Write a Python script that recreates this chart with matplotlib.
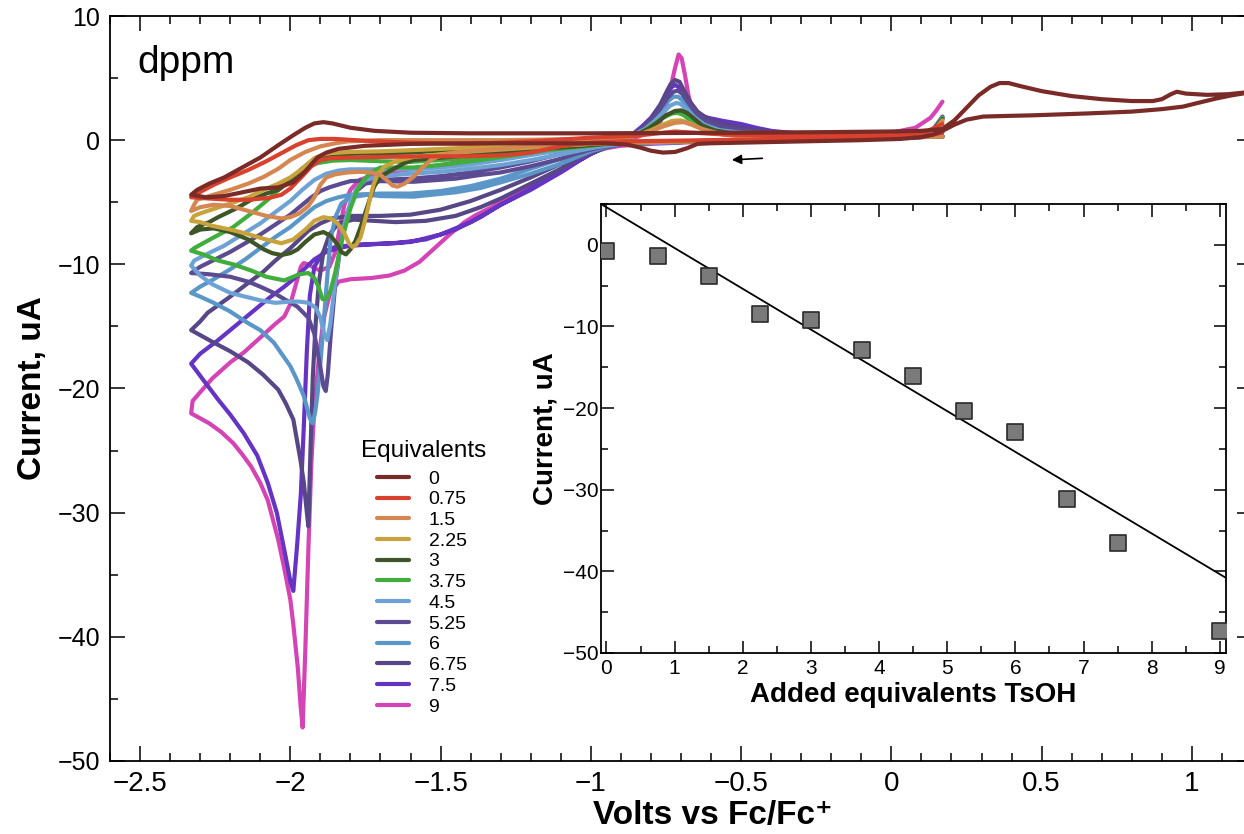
import numpy as np
import matplotlib
matplotlib.use("Agg")
import matplotlib.pyplot as plt
from matplotlib.ticker import MultipleLocator, FuncFormatter

# ---- cyclic voltammograms, (volts, current uA):
# cathodic sweep first, then the return sweep
cv_0 = [(1.18, 3.8), (1.13, 3.6), (1.08, 3.35), (1.02, 3.0), (0.97, 2.7), (0.9, 2.5), (0.8, 2.3), (0.65, 2.15),
        (0.47, 2.0), (0.38, 1.95), (0.305, 1.9), (0.25, 1.65), (0.21, 1.25), (0.17, 0.75), (0.14, 0.45),
        (0.1, 0.25), (0.03, 0.1), (-0.1, 0.0), (-0.3, -0.1), (-0.5, -0.2), (-0.6, -0.25), (-0.645, -0.3),
        (-0.68, -0.65), (-0.72, -0.95), (-0.76, -1.0), (-0.8, -0.85), (-0.835, -0.6), (-0.88, -0.35),
        (-0.95, -0.25), (-1.1, -0.25), (-1.37, -0.25), (-1.6, -0.3), (-1.75, -0.45), (-1.84, -0.7),
        (-1.88, -1.0), (-1.91, -1.4), (-1.95, -2.5), (-1.99, -3.4), (-2.04, -3.8), (-2.1, -3.9), (-2.16, -4.2),
        (-2.22, -4.5), (-2.28, -4.6), (-2.33, -4.4),
        (-2.31, -4.0), (-2.27, -3.5), (-2.22, -3.0), (-2.16, -2.2), (-2.1, -1.4), (-2.04, -0.4), (-1.99, 0.4),
        (-1.95, 1.0), (-1.92, 1.35), (-1.89, 1.45), (-1.86, 1.35), (-1.8, 1.0), (-1.72, 0.75), (-1.6, 0.6),
        (-1.4, 0.55), (-1.0, 0.55), (-0.5, 0.6), (-0.2, 0.65), (0.0, 0.7), (0.1, 0.75), (0.17, 0.9),
        (0.21, 1.6), (0.25, 2.6), (0.29, 3.6), (0.33, 4.3), (0.36, 4.6), (0.39, 4.6), (0.43, 4.35),
        (0.5, 3.95), (0.6, 3.55), (0.7, 3.3), (0.8, 3.15), (0.87, 3.15), (0.9, 3.3), (0.93, 3.7),
        (0.95, 3.9), (0.98, 3.75), (1.05, 3.65), (1.12, 3.7), (1.18, 3.85)]

cv_075 = [(0.17, 0.6), (0.1, 0.3), (0.0, 0.2), (-0.3, 0.1), (-0.6, 0.0), (-0.9, -0.1), (-1.0, -0.2),
          (-1.08, -0.4), (-1.14, -0.7), (-1.2, -1.0), (-1.28, -1.2), (-1.4, -1.3), (-1.55, -1.3), (-1.7, -1.35),
          (-1.8, -1.4), (-1.866, -1.45), (-1.9, -1.6), (-1.93, -2.1), (-1.96, -2.9), (-2.0, -3.9),
          (-2.03, -4.4), (-2.07, -4.65), (-2.14, -4.8), (-2.2, -4.8), (-2.27, -4.7), (-2.33, -4.6),
          (-2.31, -4.3), (-2.255, -3.6), (-2.2, -3.0), (-2.14, -2.4), (-2.08, -1.7), (-2.03, -1.05),
          (-1.98, -0.4), (-1.94, 0.0), (-1.9, 0.1), (-1.85, 0.1), (-1.75, -0.05), (-1.6, -0.2), (-1.4, -0.3),
          (-1.2, -0.1), (-1.0, 0.2), (-0.85, 0.35), (-0.76, 0.6), (-0.72, 0.7), (-0.66, 0.6), (-0.55, 0.45),
          (-0.3, 0.35), (0.0, 0.4), (0.1, 0.5), (0.17, 1.3)]

cv_15 = [(0.17, 0.3), (0.0, 0.2), (-0.5, 0.0), (-0.9, -0.2), (-1.0, -0.3), (-1.2, -0.5), (-1.367, -0.8),
         (-1.44, -0.95), (-1.477, -1.1), (-1.51, -1.35), (-1.533, -1.6), (-1.56, -2.2), (-1.59, -2.95),
         (-1.62, -3.5), (-1.643, -3.75), (-1.66, -3.65), (-1.68, -3.2), (-1.7, -2.8), (-1.73, -2.6),
         (-1.77, -2.55), (-1.81, -2.6), (-1.85, -2.75), (-1.88, -3.0), (-1.9, -3.6), (-1.92, -4.6),
         (-1.94, -5.3), (-1.97, -5.9), (-2.0, -6.2), (-2.03, -6.3), (-2.08, -6.1), (-2.14, -5.7), (-2.2, -5.3),
         (-2.255, -5.2), (-2.3, -5.4), (-2.33, -5.7),
         (-2.32, -5.2), (-2.31, -4.8), (-2.27, -4.5), (-2.2, -4.0), (-2.14, -3.5), (-2.088, -2.95),
         (-2.04, -2.3), (-2.0, -1.6), (-1.95, -0.95), (-1.9, -0.5), (-1.85, -0.25), (-1.81, -0.1), (-1.7, 0.0),
         (-1.5, 0.0), (-1.3, 0.0), (-1.0, 0.1), (-0.9, 0.2), (-0.85, 0.35), (-0.8, 0.7), (-0.76, 1.1),
         (-0.72, 1.4), (-0.69, 1.45), (-0.66, 1.2), (-0.62, 0.8), (-0.56, 0.45), (-0.5, 0.3), (-0.2, 0.3),
         (0.1, 0.45), (0.14, 0.7), (0.17, 1.5)]

cv_225 = [(0.17, 0.3), (0.0, 0.2), (-0.5, 0.0), (-0.9, -0.2), (-1.0, -0.3), (-1.2, -0.6), (-1.423, -0.95),
          (-1.59, -1.35), (-1.65, -1.7), (-1.688, -2.15), (-1.71, -2.8), (-1.722, -3.5), (-1.733, -4.5),
          (-1.743, -5.6), (-1.755, -6.8), (-1.766, -7.8), (-1.78, -8.4), (-1.793, -8.6), (-1.805, -8.3),
          (-1.82, -7.5), (-1.843, -6.7), (-1.866, -6.3), (-1.89, -6.2), (-1.92, -6.5), (-1.95, -7.2),
          (-1.99, -8.0), (-2.03, -8.3), (-2.088, -7.95), (-2.15, -7.5), (-2.2, -7.2), (-2.26, -6.9),
          (-2.3, -6.6), (-2.33, -6.5),
          (-2.32, -6.1), (-2.3, -5.9), (-2.25, -5.5), (-2.2, -5.1), (-2.14, -4.6), (-2.088, -4.0),
          (-2.04, -3.5), (-2.0, -3.0), (-1.96, -2.3), (-1.92, -1.45), (-1.89, -1.15), (-1.866, -1.05),
          (-1.8, -0.95), (-1.7, -0.9), (-1.59, -0.8), (-1.4, -0.6), (-1.2, -0.3), (-1.0, 0.0), (-0.9, 0.15),
          (-0.85, 0.35), (-0.8, 0.8), (-0.76, 1.25), (-0.73, 1.55), (-0.7, 1.6), (-0.67, 1.35), (-0.63, 0.9),
          (-0.57, 0.5), (-0.5, 0.35), (-0.2, 0.3), (0.1, 0.45), (0.14, 0.7), (0.17, 1.6)]

cv_3 = [(0.17, 0.3), (0.0, 0.2), (-0.5, 0.0), (-0.9, -0.2), (-1.0, -0.4), (-1.2, -0.8), (-1.4, -1.2),
        (-1.59, -1.6), (-1.62, -1.85), (-1.643, -2.15), (-1.67, -2.5), (-1.7, -2.95), (-1.72, -3.7),
        (-1.733, -4.55), (-1.75, -5.8), (-1.766, -7.0), (-1.783, -8.1), (-1.8, -8.8), (-1.815, -9.2),
        (-1.83, -9.0), (-1.843, -8.4), (-1.866, -7.7), (-1.89, -7.4), (-1.92, -7.6), (-1.95, -8.2),
        (-1.976, -8.8), (-2.0, -9.1), (-2.03, -9.25), (-2.06, -9.1), (-2.088, -8.8), (-2.14, -8.0),
        (-2.2, -7.4), (-2.255, -7.1), (-2.3, -7.2), (-2.33, -7.5),
        (-2.31, -7.0), (-2.27, -6.6), (-2.24, -6.2), (-2.18, -5.5), (-2.13, -4.8), (-2.08, -4.3),
        (-2.04, -4.0), (-2.0, -3.3), (-1.966, -2.4), (-1.93, -1.7), (-1.9, -1.35), (-1.85, -1.15),
        (-1.8, -1.1), (-1.6, -1.0), (-1.4, -0.7), (-1.2, -0.4), (-1.0, -0.1), (-0.9, 0.15), (-0.85, 0.4),
        (-0.81, 0.9), (-0.78, 1.4), (-0.75, 2.0), (-0.72, 2.35), (-0.7, 2.4), (-0.68, 2.2), (-0.66, 1.8),
        (-0.63, 1.2), (-0.59, 0.8), (-0.52, 0.5), (-0.3, 0.4), (0.1, 0.5), (0.14, 0.8), (0.17, 1.7)]

cv_375 = [(0.17, 0.3), (0.0, 0.2), (-0.5, 0.0), (-0.9, -0.2), (-0.98, -0.4), (-1.06, -0.6), (-1.145, -0.8),
          (-1.25, -1.2), (-1.367, -1.6), (-1.48, -1.95), (-1.59, -2.2), (-1.633, -2.2), (-1.7, -2.2),
          (-1.733, -2.6), (-1.755, -3.2), (-1.777, -4.0), (-1.8, -5.5), (-1.82, -7.3), (-1.833, -8.6),
          (-1.85, -10.6), (-1.866, -12.1), (-1.88, -12.8), (-1.893, -12.8), (-1.905, -11.9), (-1.92, -11.1),
          (-1.94, -10.7), (-1.97, -10.8), (-2.02, -11.3), (-2.08, -11.0), (-2.13, -10.5), (-2.19, -10.0),
          (-2.24, -9.7), (-2.29, -9.2), (-2.33, -8.9),
          (-2.32, -8.7), (-2.26, -7.9), (-2.19, -7.0), (-2.13, -5.9), (-2.075, -4.8), (-2.03, -3.8),
          (-1.99, -3.0), (-1.95, -2.3), (-1.91, -1.85), (-1.86, -1.65), (-1.8, -1.6), (-1.7, -1.7),
          (-1.6, -1.75), (-1.5, -1.6), (-1.4, -1.4), (-1.3, -1.1), (-1.2, -0.8), (-1.1, -0.5), (-1.0, -0.3),
          (-0.9, 0.0), (-0.86, 0.3), (-0.82, 0.8), (-0.79, 1.3), (-0.76, 1.8), (-0.73, 2.15), (-0.71, 2.2),
          (-0.69, 2.0), (-0.67, 1.6), (-0.64, 1.15), (-0.6, 0.8), (-0.53, 0.5), (-0.3, 0.4), (0.1, 0.5),
          (0.14, 0.8), (0.17, 1.8)]

cv_45 = [(0.17, 0.3), (0.0, 0.2), (-0.5, 0.0), (-0.9, -0.3), (-0.95, -0.45), (-1.0, -0.65), (-1.05, -0.9),
         (-1.1, -1.15), (-1.2, -1.6), (-1.3, -2.0), (-1.4, -2.3), (-1.5, -2.55), (-1.6, -2.7), (-1.7, -2.9),
         (-1.75, -3.2), (-1.78, -3.9), (-1.8, -5.0), (-1.82, -6.8), (-1.84, -9.5), (-1.855, -12.3),
         (-1.867, -14.8), (-1.877, -16.1), (-1.887, -15.6), (-1.9, -14.3), (-1.915, -13.5), (-1.94, -13.1),
         (-1.97, -13.0), (-2.0, -13.0), (-2.05, -13.1), (-2.1, -12.9), (-2.15, -12.6), (-2.2, -12.3),
         (-2.26, -11.6), (-2.3, -10.9), (-2.33, -10.1),
         (-2.32, -9.7), (-2.28, -9.2), (-2.22, -8.5), (-2.16, -7.6), (-2.1, -6.7), (-2.05, -5.8),
         (-2.0, -4.9), (-1.96, -4.0), (-1.92, -3.2), (-1.88, -2.7), (-1.84, -2.45), (-1.8, -2.35),
         (-1.7, -2.35), (-1.6, -2.35), (-1.5, -2.2), (-1.4, -1.95), (-1.3, -1.6), (-1.2, -1.2),
         (-1.1, -0.8), (-1.0, -0.4), (-0.95, -0.2), (-0.9, 0.05), (-0.86, 0.4), (-0.82, 0.9), (-0.79, 1.5),
         (-0.76, 2.2), (-0.735, 2.8), (-0.715, 3.0), (-0.7, 2.9), (-0.68, 2.4), (-0.655, 1.8), (-0.62, 1.2),
         (-0.57, 0.8), (-0.5, 0.6), (-0.3, 0.45), (0.1, 0.5), (0.14, 0.8), (0.17, 1.8)]

cv_525 = [(0.17, 0.3), (0.0, 0.2), (-0.5, 0.0), (-0.9, -0.3), (-0.95, -0.5), (-1.0, -0.75), (-1.05, -1.1),
          (-1.1, -1.5), (-1.2, -2.1), (-1.3, -2.6), (-1.367, -2.8), (-1.45, -3.1), (-1.59, -3.35),
          (-1.7, -3.3), (-1.75, -3.5), (-1.78, -4.1), (-1.81, -5.8), (-1.83, -8.0), (-1.85, -11.5),
          (-1.865, -15.5), (-1.875, -18.8), (-1.882, -20.2), (-1.89, -19.8), (-1.9, -18.3), (-1.92, -15.6),
          (-1.94, -14.3), (-1.977, -13.4), (-2.02, -12.8), (-2.055, -12.3), (-2.1, -11.8), (-2.14, -11.4),
          (-2.2, -11.0), (-2.27, -10.8), (-2.33, -10.7),
          (-2.3, -10.2), (-2.25, -9.6), (-2.2, -9.0), (-2.15, -8.3), (-2.1, -7.6), (-2.05, -6.8),
          (-2.0, -6.0), (-1.96, -5.2), (-1.93, -4.6), (-1.9, -4.1), (-1.87, -3.8), (-1.83, -3.5),
          (-1.8, -3.3), (-1.7, -3.2), (-1.6, -3.1), (-1.5, -2.9), (-1.4, -2.6), (-1.3, -2.2), (-1.2, -1.7),
          (-1.1, -1.1), (-1.0, -0.6), (-0.95, -0.3), (-0.9, 0.0), (-0.86, 0.4), (-0.83, 0.9), (-0.8, 1.6),
          (-0.77, 2.5), (-0.745, 3.4), (-0.725, 3.9), (-0.71, 4.0), (-0.695, 3.7), (-0.675, 3.0),
          (-0.65, 2.2), (-0.62, 1.6), (-0.57, 1.1), (-0.5, 0.8), (-0.4, 0.55), (-0.2, 0.45), (0.1, 0.5),
          (0.14, 0.8), (0.17, 1.8)]

cv_6 = [(0.17, 0.3), (0.0, 0.2), (-0.5, 0.0), (-0.9, -0.3), (-0.95, -0.55), (-1.0, -0.9), (-1.05, -1.4),
        (-1.1, -1.9), (-1.2, -2.7), (-1.3, -3.4), (-1.367, -3.85), (-1.45, -4.2), (-1.59, -4.55),
        (-1.7, -4.5), (-1.743, -4.4), (-1.8, -4.6), (-1.83, -5.1), (-1.85, -6.2), (-1.866, -8.0),
        (-1.877, -11.0), (-1.89, -15.0), (-1.9, -18.0), (-1.91, -20.6), (-1.918, -22.0), (-1.926, -22.8),
        (-1.935, -22.4), (-1.955, -20.6), (-1.98, -19.2), (-2.0, -18.2), (-2.055, -16.3), (-2.1, -15.3),
        (-2.143, -14.7), (-2.2, -13.8), (-2.255, -13.1), (-2.3, -12.6), (-2.33, -12.3),
        (-2.3, -11.8), (-2.255, -11.2), (-2.2, -10.4), (-2.15, -9.6), (-2.1, -8.7), (-2.05, -7.8),
        (-2.0, -7.0), (-1.96, -6.2), (-1.92, -5.4), (-1.88, -4.9), (-1.84, -4.6), (-1.8, -4.4),
        (-1.7, -4.3), (-1.6, -4.3), (-1.5, -4.1), (-1.4, -3.7), (-1.3, -3.1), (-1.2, -2.3), (-1.1, -1.5),
        (-1.0, -0.8), (-0.95, -0.4), (-0.9, -0.05), (-0.86, 0.35), (-0.83, 0.8), (-0.8, 1.4), (-0.77, 2.3),
        (-0.745, 3.1), (-0.725, 3.5), (-0.71, 3.5), (-0.695, 3.2), (-0.675, 2.6), (-0.65, 1.9),
        (-0.62, 1.4), (-0.57, 1.0), (-0.5, 0.7), (-0.4, 0.5), (-0.2, 0.45), (0.1, 0.5), (0.14, 0.8),
        (0.17, 1.8)]

cv_675 = [(0.17, 0.3), (0.0, 0.2), (-0.5, 0.0), (-0.9, -0.3), (-0.95, -0.6), (-1.0, -1.0), (-1.05, -1.6),
          (-1.1, -2.3), (-1.2, -3.5), (-1.3, -4.7), (-1.367, -5.4), (-1.45, -6.1), (-1.55, -6.5),
          (-1.65, -6.6), (-1.79, -6.4), (-1.84, -6.7), (-1.87, -7.6), (-1.89, -9.0), (-1.905, -11.5),
          (-1.915, -14.5), (-1.925, -19.0), (-1.933, -25.0), (-1.94, -31.1), (-1.947, -29.5),
          (-1.955, -27.6), (-1.966, -25.8), (-1.99, -22.5), (-2.015, -21.2), (-2.04, -20.1), (-2.09, -18.9),
          (-2.14, -17.9), (-2.2, -17.0), (-2.255, -16.3), (-2.3, -15.7), (-2.33, -15.3),
          (-2.3, -14.6), (-2.275, -13.9), (-2.2, -12.6), (-2.14, -11.5), (-2.09, -10.6), (-2.05, -9.7),
          (-2.0, -8.7), (-1.97, -8.0), (-1.94, -7.3), (-1.9, -6.7), (-1.86, -6.3), (-1.8, -6.1),
          (-1.7, -6.1), (-1.6, -6.0), (-1.5, -5.6), (-1.4, -4.9), (-1.3, -4.0), (-1.2, -3.0), (-1.1, -1.9),
          (-1.0, -0.9), (-0.95, -0.45), (-0.9, -0.05), (-0.86, 0.4), (-0.83, 0.9), (-0.8, 1.7),
          (-0.77, 2.8), (-0.75, 3.8), (-0.735, 4.5), (-0.72, 4.85), (-0.705, 4.7), (-0.69, 4.0),
          (-0.67, 3.1), (-0.645, 2.3), (-0.61, 1.7), (-0.56, 1.3), (-0.5, 1.0), (-0.4, 0.65), (-0.2, 0.45),
          (0.1, 0.5), (0.14, 0.8), (0.17, 1.8)]

cv_75 = [(0.17, 0.3), (0.0, 0.2), (-0.5, 0.0), (-0.9, -0.3), (-0.95, -0.6), (-1.0, -1.1), (-1.05, -1.8),
         (-1.1, -2.6), (-1.2, -4.0), (-1.3, -5.2), (-1.367, -6.2), (-1.45, -7.2), (-1.55, -8.0),
         (-1.65, -8.3), (-1.77, -8.4), (-1.85, -8.6), (-1.89, -9.0), (-1.92, -10.2), (-1.935, -12.5),
         (-1.945, -17.0), (-1.955, -23.0), (-1.965, -28.5), (-1.977, -32.5), (-1.99, -36.3), (-2.0, -35.5),
         (-2.02, -33.0), (-2.045, -30.0), (-2.075, -27.6), (-2.11, -25.4), (-2.155, -23.6), (-2.2, -22.1),
         (-2.24, -20.9), (-2.29, -19.3), (-2.33, -18.0),
         (-2.3, -17.2), (-2.24, -16.1), (-2.18, -14.9), (-2.13, -13.9), (-2.07, -12.7), (-2.02, -11.8),
         (-1.98, -11.0), (-1.95, -10.3), (-1.92, -9.6), (-1.88, -9.0), (-1.84, -8.7), (-1.8, -8.5),
         (-1.7, -8.35), (-1.6, -8.2), (-1.5, -7.6), (-1.4, -6.6), (-1.3, -5.2), (-1.2, -3.9), (-1.1, -2.5),
         (-1.0, -1.1), (-0.95, -0.5), (-0.9, 0.0), (-0.86, 0.5), (-0.83, 1.1), (-0.8, 1.8), (-0.77, 2.8),
         (-0.745, 3.8), (-0.73, 4.3), (-0.718, 4.45), (-0.705, 4.2), (-0.69, 3.5), (-0.67, 2.7),
         (-0.645, 2.1), (-0.61, 1.8), (-0.56, 1.55), (-0.5, 1.3), (-0.45, 1.0), (-0.4, 0.75), (-0.3, 0.5),
         (-0.1, 0.45), (0.1, 0.5), (0.14, 0.9), (0.17, 1.9)]

cv_9 = [(0.17, 0.3), (0.0, 0.15), (-0.3, 0.0), (-0.6, -0.1), (-0.8, -0.3), (-0.9, -0.45), (-0.95, -0.65),
        (-0.98, -0.85), (-1.03, -1.5), (-1.08, -2.3), (-1.15, -3.2), (-1.22, -4.0), (-1.28, -4.7),
        (-1.33, -5.4), (-1.38, -6.0), (-1.42, -6.6), (-1.47, -7.6), (-1.52, -8.7), (-1.57, -9.8),
        (-1.62, -10.5), (-1.67, -10.9), (-1.73, -11.1), (-1.8, -11.2), (-1.84, -11.4), (-1.87, -12.5),
        (-1.89, -14.5), (-1.905, -17.5), (-1.92, -21.5), (-1.93, -26.0), (-1.94, -33.0), (-1.95, -41.0),
        (-1.959, -47.3), (-1.966, -45.5), (-1.975, -42.5), (-1.99, -39.0), (-2.0, -37.0), (-2.02, -34.5),
        (-2.04, -32.2), (-2.075, -29.0), (-2.1, -27.6), (-2.13, -26.3), (-2.16, -25.3), (-2.19, -24.4),
        (-2.23, -23.5), (-2.27, -22.8), (-2.33, -22.0),
        (-2.325, -21.0), (-2.3, -20.3), (-2.26, -19.2), (-2.2, -17.9), (-2.155, -17.1), (-2.1, -15.9),
        (-2.05, -14.8), (-2.02, -14.2), (-2.0, -13.2), (-1.98, -11.5), (-1.965, -10.2), (-1.956, -9.9),
        (-1.94, -10.0), (-1.92, -10.3), (-1.9, -10.5), (-1.87, -10.2), (-1.85, -9.0), (-1.835, -7.0),
        (-1.82, -5.2), (-1.8, -4.0), (-1.77, -3.2), (-1.72, -2.8), (-1.65, -2.5), (-1.55, -2.2),
        (-1.45, -1.8), (-1.35, -1.4), (-1.2, -0.9), (-1.0, -0.3), (-0.9, 0.0), (-0.84, 0.3), (-0.8, 0.7),
        (-0.77, 1.4), (-0.75, 2.6), (-0.735, 4.2), (-0.72, 5.8), (-0.708, 6.9), (-0.698, 6.6),
        (-0.688, 5.4), (-0.675, 3.6), (-0.66, 2.2), (-0.64, 1.4), (-0.6, 1.0), (-0.5, 0.7), (-0.3, 0.5),
        (0.0, 0.6), (0.08, 1.0), (0.13, 1.8), (0.15, 2.4), (0.17, 3.1)]

equiv_labels = ["0", "0.75", "1.5", "2.25", "3", "3.75", "4.5", "5.25", "6", "6.75", "7.5", "9"]
cv_data = [cv_0, cv_075, cv_15, cv_225, cv_3, cv_375, cv_45, cv_525, cv_6, cv_675, cv_75, cv_9]
colors = ["#7a2b27", "#d8412d", "#d58752", "#c8a23a", "#3d5527", "#40ad3c",
          "#6fa2d4", "#5c4b92", "#5b96c8", "#574786", "#6534c3", "#d444b4"]

# ---- inset: peak current against added acid
added_eq = [0, 0.75, 1.5, 2.25, 3, 3.75, 4.5, 5.25, 6, 6.75, 7.5, 9]
peak_current = [-0.7, -1.4, -3.8, -8.5, -9.2, -12.9, -16.1, -20.3, -22.9, -31.1, -36.5, -47.3]
fit_x = [-0.08, 9.09]
fit_y = [5.0, -40.8]

base = "Liberation Sans"
plt.rcParams["font.family"] = [base, "DejaVu Sans"]


def num_fmt(x, pos):
    return f"{x:g}".replace("-", "\u2212")


W, H = 1244, 834
fig = plt.figure(figsize=(W / 100, H / 100), dpi=100)
ax = fig.add_axes([110 / W, 73 / H, 1142 / W, 745 / H])

lines = []
for k in range(len(cv_data) - 1, -1, -1):
    pts = np.array(cv_data[k])
    ln, = ax.plot(pts[:, 0], pts[:, 1], color=colors[k], lw=3.0,
                  solid_joinstyle="round", solid_capstyle="round")
    lines.append(ln)
lines = lines[::-1]

ax.set_xlim(-2.6, 1.2)
ax.set_ylim(-50, 10)
ax.xaxis.set_major_locator(MultipleLocator(0.5))
ax.xaxis.set_minor_locator(MultipleLocator(0.1))
ax.yaxis.set_major_locator(MultipleLocator(10))
ax.yaxis.set_minor_locator(MultipleLocator(5))
ax.xaxis.set_major_formatter(FuncFormatter(num_fmt))
ax.yaxis.set_major_formatter(FuncFormatter(num_fmt))
ax.tick_params(which="both", direction="in", top=True, right=True, width=1.1)
ax.tick_params(which="major", length=11)
ax.tick_params(which="minor", length=5.5)
ax.tick_params(axis="y", labelsize=18, pad=7)
ax.tick_params(axis="x", labelsize=20, pad=7)
for s in ax.spines.values():
    s.set_linewidth(1.3)

ax.set_ylabel("Current, uA", fontsize=24, fontweight="bold", labelpad=7)
ax.set_xlabel("Volts vs Fc/Fc\u207a", fontsize=24, fontweight="bold")
ax.xaxis.set_label_coords((713 - 110) / 1142, -0.052)

ax.text(0.024, 0.9235, "dppm", transform=ax.transAxes, fontsize=28)

ax.annotate("", xy=(-0.54, -1.6), xytext=(-0.42, -1.45),
            arrowprops=dict(arrowstyle="-|>", color="black", lw=1.2, mutation_scale=14))

fig.text(423.5 / W, 1 - 457 / H, "Equivalents", fontsize=17.5, ha="center", va="baseline")
leg = ax.legend(lines, equiv_labels, loc="upper left",
                bbox_to_anchor=(377 / W, 1 - 470 / H), bbox_transform=fig.transFigure,
                frameon=False, fontsize=14,
                handlelength=1.65, handletextpad=1.0, labelspacing=0.16, borderpad=0,
                borderaxespad=0)

# ---- inset
ins = fig.add_axes([601 / W, (H - 653) / H, 625 / W, 449 / H])
ins.set_facecolor("white")
ins.plot(fit_x, fit_y, color="black", lw=1.3)
ins.scatter(added_eq, peak_current, marker="s", s=120, color="#7a7a7a", edgecolors="#2a2a2a",
            linewidths=1.2, zorder=3)
ins.set_xlim(-0.08, 9.09)
ins.set_ylim(-50, 5)
ins.xaxis.set_major_locator(MultipleLocator(1))
ins.xaxis.set_minor_locator(MultipleLocator(0.5))
ins.yaxis.set_major_locator(MultipleLocator(10))
ins.yaxis.set_minor_locator(MultipleLocator(5))
ins.xaxis.set_major_formatter(FuncFormatter(num_fmt))
ins.yaxis.set_major_formatter(FuncFormatter(num_fmt))
ins.tick_params(which="both", direction="in", top=True, right=True, width=1.1, labelsize=15)
ins.tick_params(which="major", length=9)
ins.tick_params(which="minor", length=5)
ins.tick_params(axis="y", pad=2)
ins.tick_params(axis="x", pad=4)
for s in ins.spines.values():
    s.set_linewidth(1.3)
ins.set_ylabel("Current, uA", fontsize=20, fontweight="bold", labelpad=3)
ins.set_xlabel("Added equivalents TsOH", fontsize=20, fontweight="bold", labelpad=3)

fig.savefig("out.png", dpi=100)
